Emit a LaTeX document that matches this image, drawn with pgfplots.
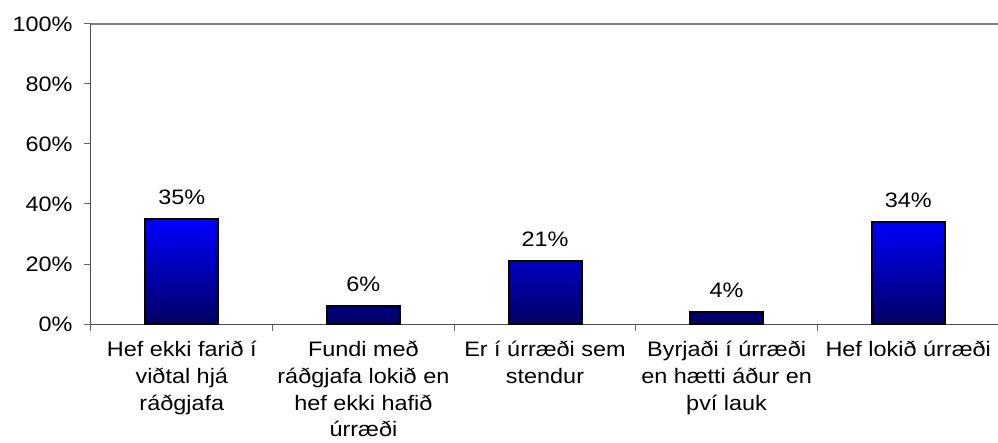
\documentclass[border=0pt]{standalone}
\usepackage{fontspec}
\setmainfont{Liberation Sans}[FakeStretch=1.12]
\usepackage{pgfplots}
\pgfplotsset{compat=1.18}
\definecolor{axgray}{RGB}{128,128,128}
\definecolor{bartop}{RGB}{0,0,255}
\definecolor{barbot}{RGB}{0,0,100}
\begin{document}
\begin{tikzpicture}
\begin{axis}[
  scale only axis, width=908bp, height=300bp,
  at={(0,0)}, anchor=south west,
  xmin=-0.5, xmax=4.5, ymin=0, ymax=100,
  axis x line*=bottom, axis y line*=left,
  axis line style={draw=black!70, line width=1bp},
  every tick/.style={draw=black!60, line width=1bp},
  ybar, bar width=73bp,
  /pgf/number format/assume math mode=true,
  font=\fontsize{21}{24}\selectfont,
  xtick={-0.5,0.5,...,4.5}, xticklabels={,,,,,,},
  extra x ticks={0,1,2,3,4},
  extra x tick labels={{Hef ekki farið í\\viðtal hjá\\ráðgjafa},{Fundi með\\ráðgjafa lokið en\\hef ekki hafið\\úrræði},{Er í úrræði sem\\stendur},{Byrjaði í úrræði\\en hætti áður en\\því lauk},{Hef lokið úrræði}},
  extra x tick style={major tick length=0pt},
  xticklabel style={align=center, font=\fontsize{21}{26.8}\selectfont, inner sep=0pt, yshift=-17bp},
  ytick={0,20,...,100}, yticklabels={0\%,20\%,40\%,60\%,80\%,100\%},
  yticklabel style={font=\fontsize{21}{24}\selectfont, xshift=-8bp},
  tick align=outside, major tick length=7bp,
  nodes near coords={\pgfmathprintnumber{\pgfplotspointmeta}\%},
  every node near coord/.append style={font=\fontsize{21}{24}\selectfont, yshift=10bp, black},
  clip=false,
]
\addplot[draw=black, line width=2bp, top color=bartop, bottom color=barbot] coordinates {(0,35) (1,6) (2,21) (3,4) (4,34)};
\draw[axgray, line width=1.5bp] (rel axis cs:0,1) -- (rel axis cs:1,1);
\end{axis}
\pgfresetboundingbox
\useasboundingbox (-91bp,-119bp) rectangle (907bp,324bp);
\end{tikzpicture}
\end{document}
